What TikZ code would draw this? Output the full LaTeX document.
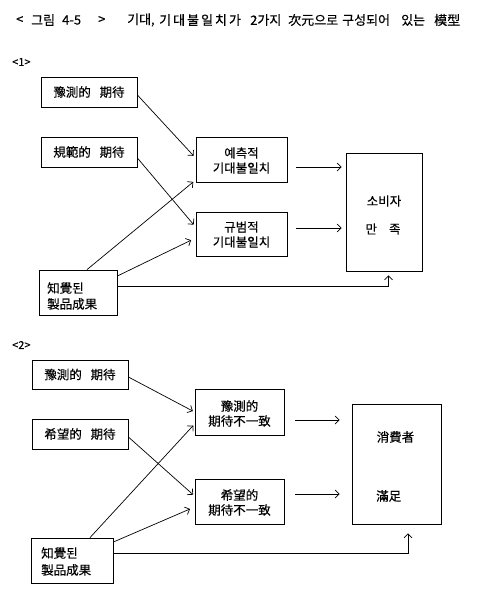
\documentclass[tikz,border=0pt]{standalone}
\usepackage{fontspec}
\setmainfont{Noto Sans CJK KR}[FakeBold=0.4]
\usetikzlibrary{arrows.meta}
\begin{document}
\begin{tikzpicture}[x=1pt,y=-1pt,font=\fontsize{12.5}{14}\selectfont]
\tikzset{
  bx/.style={draw,line width=0.8pt,inner sep=0pt,align=center},
  txt/.style={inner sep=0pt},
  tw/.style={inner sep=0pt,anchor=west,font=\fontsize{13}{14}\selectfont},
  arr/.style={-{Straight Barb[length=4pt,width=8pt,line width=0.7pt]},line width=0.7pt},
}
\useasboundingbox (0,0) rectangle (492,610);
% title
\node[tw] (t1) at (16,20) {<};
\node[tw] (t2) at (31,20) {그림};
\node[tw] (t3) at (62,20) {4-5};
\node[tw] (t4) at (98,20) {>};
\node[tw] (t5) at (127,20) {기대,};
\node[tw] (t6) at (159,20) {기\hspace{2pt}대\hspace{2pt}불\hspace{2pt}일\hspace{2pt}치\hspace{2pt}가};
\node[tw] (t7) at (250,20) {2가지};
\node[tw] (t8) at (288,20) {次元으로};
\node[tw] (t9) at (342,20) {구성되어};
\node[tw] (t10) at (401,20) {있는};
\node[tw] (t11) at (434,20) {模型};
% ---------- section 1 ----------
\node[txt,anchor=west,font=\fontsize{11}{12}\selectfont] (s1) at (12,62) {<1>};
\node[bx,minimum width=96pt,minimum height=30pt] (a1) at (89,92) {豫測的\hspace{0.7em}期待};
\node[bx,minimum width=96pt,minimum height=30pt] (b1) at (89,152) {規範的\hspace{0.7em}期待};
\node[bx,minimum width=91pt,minimum height=45pt] (c1) at (241.5,159.5) {};
\node[txt] (c1t) at (241.5,153) {예측적};
\node[txt] (c1u) at (241.5,168) {기대불일치};
\node[bx,minimum width=91pt,minimum height=44pt] (d1) at (241.5,234) {};
\node[txt] (d1t) at (241.5,227) {규범적};
\node[txt] (d1u) at (241.5,242) {기대불일치};
\node[bx,minimum width=76pt,minimum height=118pt] (e1) at (384,212) {};
\node[txt] (e1t) at (384,201) {소비자};
\node[txt] (e1u) at (383,229) {만\hspace{12pt}족};
\node[bx,minimum width=78pt,minimum height=45pt] (f1) at (78,292.5) {};
\node[txt,anchor=west] (f1t) at (47,288) {知覺된};
\node[txt,anchor=west] (f1u) at (47,304) {製品成果};
\draw[arr,shorten >=3pt] ([yshift=-3pt]a1.east) -- ([yshift=1.5pt]c1.west);
\draw[arr,shorten >=3pt] ([yshift=-6pt]b1.east) -- ([yshift=7pt]d1.west);
\draw[arr,shorten >=3pt] ([xshift=9pt]f1.north) -- ([yshift=-20.5pt]c1.west);
\draw[arr,shorten >=5pt] ([yshift=16.5pt]f1.east) -- ([yshift=-4pt]d1.west);
\draw[arr] ([yshift=6.5pt]f1.east) -| ([xshift=4.5pt,yshift=-4pt]e1.south);
\coordinate (c1o) at ([xshift=9pt,yshift=-7.5pt]c1.east);
\coordinate (d1o) at ([xshift=9pt,yshift=6pt]d1.east);
\draw[arr,shorten >=4pt] (c1o) -- (c1o -| e1.west);
\draw[arr,shorten >=4pt] (d1o) -- (d1o -| e1.west);
% ---------- section 2 ----------
\node[txt,anchor=west,font=\fontsize{11}{12}\selectfont] (s2) at (12,345) {<2>};
\node[bx,minimum width=96pt,minimum height=29pt] (a2) at (80,374.5) {豫測的\hspace{0.7em}期待};
\node[bx,minimum width=96pt,minimum height=30pt] (b2) at (80,434) {希望的\hspace{0.7em}期待};
\node[bx,minimum width=89pt,minimum height=46pt] (c2) at (239.5,412) {};
\node[txt] (c2t) at (239.5,406) {豫測的};
\node[txt] (c2u) at (239.5,421) {期待不一致};
\node[bx,minimum width=89pt,minimum height=45pt] (d2) at (239.5,501.5) {};
\node[txt] (d2t) at (239.5,495) {希望的};
\node[txt] (d2u) at (239.5,510) {期待不一致};
\node[bx,minimum width=89pt,minimum height=120pt] (e2) at (396.5,464) {};
\node[txt] (e2t) at (395.5,437) {消費者};
\node[txt,anchor=west] (e2u) at (376,496) {滿足};
\node[bx,minimum width=82pt,minimum height=45pt] (f2) at (72,560.5) {};
\node[txt,anchor=west] (f2t) at (41,553) {知覺된};
\node[txt,anchor=west] (f2u) at (41,570) {製品成果};
\draw[arr,shorten >=2pt] ([yshift=-2.5pt]a2.east) -- (c2.west);
\draw[arr,shorten >=2pt] ([yshift=-3pt]b2.east) -- ([yshift=5.5pt]d2.west);
\draw[arr,shorten >=2pt] ([xshift=18pt]f2.north) -- ([yshift=-12pt]c2.west);
\draw[arr,shorten >=5pt] ([yshift=18.5pt]f2.east) -- ([yshift=-5.5pt]d2.west);
\draw[arr] ([yshift=7.5pt]f2.east) -| ([xshift=11.5pt,yshift=-9pt]e2.south);
\coordinate (c2o) at ([xshift=11pt,yshift=-8pt]c2.east);
\coordinate (d2o) at ([xshift=11pt,yshift=7.5pt]d2.east);
\draw[arr,shorten >=12pt] (c2o) -- (c2o -| e2.west);
\draw[arr,shorten >=12pt] (d2o) -- (d2o -| e2.west);
\end{tikzpicture}
\end{document}
